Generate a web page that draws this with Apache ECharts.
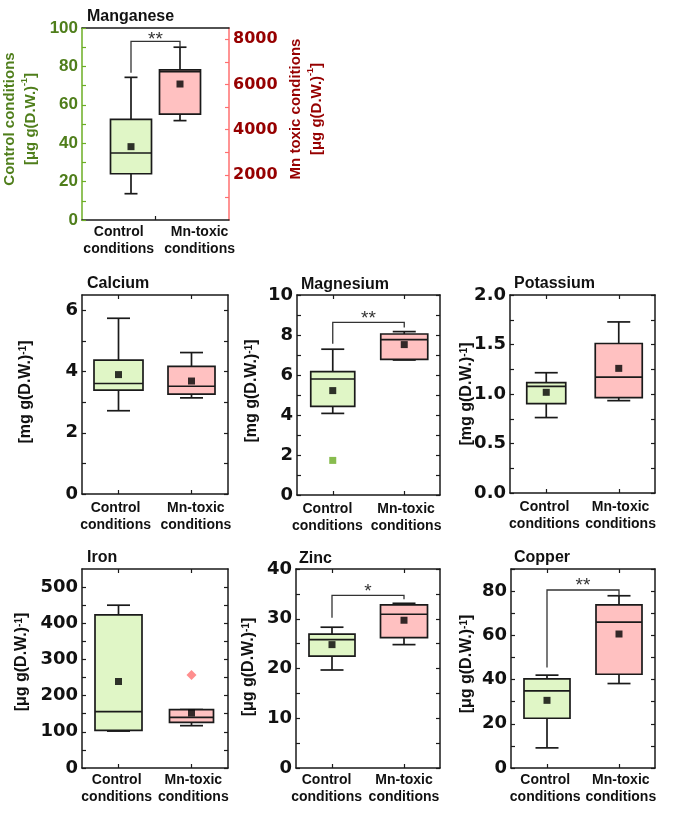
<!DOCTYPE html>
<html><head><meta charset="utf-8">
<script src="https://cdn.jsdelivr.net/npm/echarts@6/dist/echarts.min.js"></script>
<style>html,body{margin:0;padding:0;background:#fff}#c{width:685px;height:815px}</style>
</head><body><div id="c"></div>
<script>
// ---------------- DATA ----------------
const categories = ['Control\nconditions', 'Mn-toxic\nconditions'];
// box stats: [min, Q1, median, Q3, max]
// Manganese: control on left axis (µg/g), Mn-toxic on right axis (µg/g)
const mnControl = [13.7, 24.1, 34.9, 52.4, 74.3];
const mnControlMean = [38.2];
const mnToxic = [4400, 4690, 6570, 6650, 7650];
const mnToxicMean = [6020];
const mnSignif = [93, 76.7, 90];            // bracket top, left leg end, right leg end
const mnLeftLabels = [0, 20, 40, 60, 80, 100];
const mnLeftTicks = [0, 10, 20, 30, 40, 50, 60, 70, 80, 90, 100];
const mnRightLabels = [2000, 4000, 6000, 8000];
const mnRightTicks = [1000, 2000, 3000, 4000, 5000, 6000, 7000, 8000];

const caControl = [2.72, 3.39, 3.61, 4.37, 5.74];
const caControlMean = [3.90];
const caToxic = [3.14, 3.26, 3.52, 4.17, 4.62];
const caToxicMean = [3.69];
const caLabels = [0, 2, 4, 6];
const caTicks = [0, 1, 2, 3, 4, 5, 6];

const mgControl = [4.08, 4.43, 5.80, 6.17, 7.29];
const mgControlMean = [5.22];
const mgControlOutliers = [1.73];
const mgToxic = [6.75, 6.78, 7.77, 8.05, 8.17];
const mgToxicMean = [7.52];
const mgSignif = [8.63, 7.56, 8.38];
const mgLabels = [0, 2, 4, 6, 8, 10];
const mgTicks = [0, 1, 2, 3, 4, 5, 6, 7, 8, 9, 10];

const kControl = [0.762, 0.903, 1.078, 1.114, 1.215];
const kControlMean = [1.017];
const kToxic = [0.933, 0.963, 1.171, 1.51, 1.728];
const kToxicMean = [1.259];
const kLabels = [0, 0.5, 1.0, 1.5, 2.0];
const kTicks = [0, 0.25, 0.5, 0.75, 1.0, 1.25, 1.5, 1.75, 2.0];

const feControl = [102, 104, 156, 423, 450];
const feControlMean = [239];
const feToxic = [117, 126, 140, 161.5, 161.5];
const feToxicMean = [152];
const feToxicOutliers = [257];
const feLabels = [0, 100, 200, 300, 400, 500];
const feTicks = [0, 50, 100, 150, 200, 250, 300, 350, 400, 450, 500];

const znControl = [19.7, 22.5, 25.8, 26.9, 28.3];
const znControlMean = [24.8];
const znToxic = [24.8, 26.2, 30.9, 32.8, 33.1];
const znToxicMean = [29.7];
const znSignif = [34.7, 30.2, 33.9];
const znLabels = [0, 10, 20, 30, 40];
const znTicks = [0, 5, 10, 15, 20, 25, 30, 35, 40];

const cuControl = [9.1, 22.5, 34.9, 40.3, 42.0];
const cuControlMean = [30.6];
const cuToxic = [38.2, 42.4, 66.0, 73.8, 77.9];
const cuToxicMean = [60.6];
const cuSignif = [80.5, 45.4, 77.9];
const cuLabels = [0, 20, 40, 60, 80];
const cuTicks = [0, 10, 20, 30, 40, 50, 60, 70, 80, 90];

// ---------------- STYLE ----------------
const ARIAL = '"Liberation Sans", Arial, sans-serif';
const DEJAVU = '"DejaVu Sans", sans-serif';
const INK = '#1a1a1a';
const CTRL_FILL = '#e0f6c6';
const TOX_FILL = '#ffc1c1';
const GREEN_LINE = '#6cae24';
const GREEN_TEXT = '#4f7e1b';
const RED_LINE = '#ff7070';
const RED_TEXT = '#960000';

const grids = [], xAxis = [], yAxis = [], series = [], titles = [], graphics = [];

function boxRender(boxW, capW, fill) {
  return function (params, api) {
    const x = api.value(0);
    const pt = i => api.coord([x, api.value(i)]);
    const lo = pt(1), q1 = pt(2), md = pt(3), q3 = pt(4), hi = pt(5);
    const cx = lo[0];
    const ls = { stroke: INK, lineWidth: 1.7, fill: null };
    const ch = [];
    ch.push({ type: 'line', shape: { x1: cx, y1: hi[1], x2: cx, y2: q3[1] }, style: ls });
    ch.push({ type: 'line', shape: { x1: cx, y1: q1[1], x2: cx, y2: lo[1] }, style: ls });
    ch.push({ type: 'line', shape: { x1: cx - capW / 2, y1: hi[1], x2: cx + capW / 2, y2: hi[1] }, style: ls });
    ch.push({ type: 'line', shape: { x1: cx - capW / 2, y1: lo[1], x2: cx + capW / 2, y2: lo[1] }, style: ls });
    ch.push({ type: 'rect', shape: { x: cx - boxW / 2, y: q3[1], width: boxW, height: q1[1] - q3[1] },
      style: { fill: fill, stroke: INK, lineWidth: 1.7 } });
    ch.push({ type: 'line', shape: { x1: cx - boxW / 2, y1: md[1], x2: cx + boxW / 2, y2: md[1] }, style: ls });
    return { type: 'group', children: ch };
  };
}

function bracketRender(stars, starOff) {
  return function (params, api) {
    const x1 = api.value(0), x2 = api.value(1);
    const a = api.coord([x1, api.value(3)]);
    const b = api.coord([x1, api.value(2)]);
    const c = api.coord([x2, api.value(2)]);
    const d = api.coord([x2, api.value(4)]);
    return { type: 'group', children: [
      { type: 'polyline', shape: { points: [a, b, c, d] }, style: { stroke: '#333', lineWidth: 1.3, fill: null } },
      { type: 'text', x: (b[0] + c[0]) / 2, y: b[1] - starOff,
        style: { text: stars, font: 'normal 19px "Liberation Sans", Arial', fill: '#333', align: 'center', verticalAlign: 'middle' } }
    ] };
  };
}

function addPanel(p) {
  const gi = grids.length;
  grids.push({ left: p.rect[0], top: p.rect[1], width: p.rect[2], height: p.rect[3] });
  const xb = xAxis.length;
  xAxis.push({
    gridIndex: gi, type: 'value', min: 0, max: p.xMax, position: 'bottom',
    axisLine: { show: true, onZero: false, lineStyle: { color: INK, width: 1.5 } },
    axisTick: { show: p.botTicks.length > 0, inside: true, length: 4, customValues: p.botTicks, lineStyle: { color: INK, width: 1.2 } },
    axisLabel: { show: true, customValues: p.labelPos,
      formatter: (v) => { let k = 0, best = 1e9; p.labelPos.forEach((q, i) => { if (Math.abs(q - v) < best) { best = Math.abs(q - v); k = i; } }); return categories[k]; },
      margin: p.labelMargin, fontFamily: ARIAL, fontWeight: 'bold', fontSize: 14, lineHeight: 16.5, color: '#111' },
    splitLine: { show: false }
  });
  xAxis.push({
    gridIndex: gi, type: 'value', min: 0, max: p.xMax, position: 'top',
    axisLine: { show: true, onZero: false, lineStyle: { color: INK, width: 1.5 } },
    axisTick: { show: p.topTicks.length > 0, inside: true, length: 4, customValues: p.topTicks, lineStyle: { color: INK, width: 1.2 } },
    axisLabel: { show: false }, splitLine: { show: false }
  });
  const yl = yAxis.length;
  const L = p.left, R = p.right;
  yAxis.push({
    gridIndex: gi, type: 'value', min: L.min, max: L.max, position: 'left',
    axisLine: { show: true, onZero: false, lineStyle: { color: L.line || INK, width: 1.5 } },
    axisTick: { show: true, inside: true, length: 4, customValues: L.ticks, lineStyle: { color: L.line || INK, width: 1.2 } },
    axisLabel: { show: true, customValues: L.labels, formatter: L.fmt || (v => String(v)), margin: 4,
      fontFamily: L.font || DEJAVU, fontWeight: 'bold', fontSize: L.size || 18, color: L.color || '#111' },
    splitLine: { show: false }
  });
  yAxis.push({
    gridIndex: gi, type: 'value', min: R.min, max: R.max, position: 'right',
    axisLine: { show: true, onZero: false, lineStyle: { color: R.line || INK, width: 1.5 } },
    axisTick: { show: true, inside: true, length: 4, customValues: R.ticks, lineStyle: { color: R.line || INK, width: 1.2 } },
    axisLabel: { show: !!R.labels, customValues: R.labels || [], formatter: v => String(v), margin: 4,
      fontFamily: R.font || DEJAVU, fontWeight: 'bold', fontSize: R.size || 18, color: R.color || '#111' },
    splitLine: { show: false }
  });
  p.boxes.forEach(b => {
    const yi = b.right ? yl + 1 : yl;
    series.push({ type: 'custom', xAxisIndex: xb, yAxisIndex: yi, renderItem: boxRender(b.w, p.capW, b.fill),
      data: [[b.x].concat(b.stats)], z: 2, silent: true, clip: false });
    series.push({ type: 'scatter', xAxisIndex: xb, yAxisIndex: yi, symbol: 'rect', symbolSize: 7,
      itemStyle: { color: '#000' }, data: b.mean.map(v => [b.x, v]), z: 5, silent: true });
    if (b.outliers) {
      series.push({ type: 'scatter', xAxisIndex: xb, yAxisIndex: yi, symbol: b.outSym, symbolSize: b.outSize,
        itemStyle: { color: b.outColor }, data: b.outliers.map(v => [b.x, v]), z: 5, silent: true });
    }
  });
  if (p.signif) {
    series.push({ type: 'custom', xAxisIndex: xb, yAxisIndex: yl, renderItem: bracketRender(p.stars, p.starOff),
      data: [[p.boxes[0].x, p.boxes[1].x].concat(p.signif)], z: 3, silent: true, clip: false });
  }
  titles.push({ text: p.title, left: p.titlePos[0], top: p.titlePos[1], padding: 0,
    textStyle: { fontFamily: ARIAL, fontWeight: 'bold', fontSize: 16, lineHeight: 16, color: '#111' } });
}

const nameRich = (size, color) => ({ s: { fontSize: Math.round(size * 0.62), fontWeight: 'bold', fontFamily: ARIAL, fill: color, verticalAlign: 'top', lineHeight: size } });
function addName(text, x, y, size, color, lh) {
  graphics.push({ type: 'text', x: x, y: y, rotation: Math.PI / 2, silent: true,
    style: { text: text, fontFamily: ARIAL, fontWeight: 'bold', fontSize: size, fill: color, lineHeight: lh || size,
      align: 'center', verticalAlign: 'middle', rich: nameRich(size, color) } });
}

// ---------------- PANELS ----------------
addPanel({ title: 'Manganese', titlePos: [87, 9], rect: [82, 28, 147, 192], xMax: 3,
  botTicks: [1.5], topTicks: [], labelPos: [0.75, 2.4], labelMargin: 4, capW: 13,
  left: { min: 0, max: 100, labels: mnLeftLabels, ticks: mnLeftTicks, line: GREEN_LINE, color: GREEN_TEXT, font: ARIAL, size: 17 },
  right: { min: 0, max: 8500, labels: mnRightLabels, ticks: mnRightTicks, line: RED_LINE, color: RED_TEXT, font: DEJAVU, size: 16 },
  boxes: [
    { x: 1, stats: mnControl, mean: mnControlMean, fill: CTRL_FILL, w: 41 },
    { x: 2, stats: mnToxic, mean: mnToxicMean, fill: TOX_FILL, w: 41, right: true }
  ],
  signif: mnSignif, stars: '**', starOff: 2 });

addPanel({ title: 'Calcium', titlePos: [87, 276], rect: [82, 295, 146, 199], xMax: 4,
  botTicks: [1, 3], topTicks: [1, 3], labelPos: [0.92, 3.12], labelMargin: 6, capW: 23,
  left: { min: 0, max: 6.5, labels: caLabels, ticks: caTicks },
  right: { min: 0, max: 6.5, ticks: caTicks },
  boxes: [
    { x: 1, stats: caControl, mean: caControlMean, fill: CTRL_FILL, w: 49 },
    { x: 3, stats: caToxic, mean: caToxicMean, fill: TOX_FILL, w: 47 }
  ] });

addPanel({ title: 'Magnesium', titlePos: [301, 277], rect: [297, 295, 143, 200], xMax: 4,
  botTicks: [1, 3], topTicks: [1, 3], labelPos: [0.85, 3.05], labelMargin: 6, capW: 23,
  left: { min: 0, max: 10, labels: mgLabels, ticks: mgTicks },
  right: { min: 0, max: 10, ticks: mgTicks },
  boxes: [
    { x: 1, stats: mgControl, mean: mgControlMean, fill: CTRL_FILL, w: 44, outliers: mgControlOutliers, outSym: 'rect', outSize: 7, outColor: '#6aab22' },
    { x: 3, stats: mgToxic, mean: mgToxicMean, fill: TOX_FILL, w: 47 }
  ],
  signif: mgSignif, stars: '**', starOff: 4 });

addPanel({ title: 'Potassium', titlePos: [514, 276], rect: [510, 295, 145, 198], xMax: 4,
  botTicks: [1, 3], topTicks: [1, 3], labelPos: [0.95, 3.05], labelMargin: 6, capW: 23,
  left: { min: 0, max: 2, labels: kLabels, ticks: kTicks, fmt: v => v.toFixed(1) },
  right: { min: 0, max: 2, ticks: kTicks },
  boxes: [
    { x: 1, stats: kControl, mean: kControlMean, fill: CTRL_FILL, w: 39 },
    { x: 3, stats: kToxic, mean: kToxicMean, fill: TOX_FILL, w: 47 }
  ] });

addPanel({ title: 'Iron', titlePos: [87, 550], rect: [82, 569, 146, 199], xMax: 4,
  botTicks: [1, 3], topTicks: [1, 3], labelPos: [0.95, 3.05], labelMargin: 4, capW: 23,
  left: { min: 0, max: 550, labels: feLabels, ticks: feTicks },
  right: { min: 0, max: 550, ticks: feTicks },
  boxes: [
    { x: 1, stats: feControl, mean: feControlMean, fill: CTRL_FILL, w: 47 },
    { x: 3, stats: feToxic, mean: feToxicMean, fill: TOX_FILL, w: 44, outliers: feToxicOutliers, outSym: 'diamond', outSize: 10, outColor: '#ff7272' }
  ] });

addPanel({ title: 'Zinc', titlePos: [299, 551], rect: [296, 569, 144, 199], xMax: 4,
  botTicks: [1, 3], topTicks: [1, 3], labelPos: [0.85, 3.0], labelMargin: 4, capW: 23,
  left: { min: 0, max: 40, labels: znLabels, ticks: znTicks },
  right: { min: 0, max: 40, ticks: znTicks },
  boxes: [
    { x: 1, stats: znControl, mean: znControlMean, fill: CTRL_FILL, w: 46 },
    { x: 3, stats: znToxic, mean: znToxicMean, fill: TOX_FILL, w: 47 }
  ],
  signif: znSignif, stars: '*', starOff: 4 });

addPanel({ title: 'Copper', titlePos: [514, 550], rect: [511, 569, 144, 199], xMax: 4,
  botTicks: [1, 3], topTicks: [1, 3], labelPos: [0.95, 3.05], labelMargin: 4, capW: 23,
  left: { min: 0, max: 90, labels: cuLabels, ticks: cuTicks },
  right: { min: 0, max: 90, ticks: cuTicks },
  boxes: [
    { x: 1, stats: cuControl, mean: cuControlMean, fill: CTRL_FILL, w: 46 },
    { x: 3, stats: cuToxic, mean: cuToxicMean, fill: TOX_FILL, w: 46 }
  ],
  signif: cuSignif, stars: '**', starOff: 4 });

// axis names
addName('Control conditions\n[μg g(D.W.){s|-1}]', 20, 119, 15, GREEN_TEXT, 21);
addName('Mn toxic conditions\n[μg g(D.W.){s|-1}]', 306, 109, 15, RED_TEXT, 21);
addName('[mg g(D.W.){s|-1}]', 26, 392, 16, '#111');
addName('[mg g(D.W.){s|-1}]', 252, 391, 16, '#111');
addName('[mg g(D.W.){s|-1}]', 467, 394, 16, '#111');
addName('[μg g(D.W.){s|-1}]', 22, 662, 16, '#111');
addName('[μg g(D.W.){s|-1}]', 249, 667, 16, '#111');
addName('[μg g(D.W.){s|-1}]', 467, 664, 16, '#111');

const chart = echarts.init(document.getElementById('c'), null, { renderer: 'canvas' });
chart.setOption({
  animation: false,
  backgroundColor: '#fff',
  title: titles,
  grid: grids,
  xAxis: xAxis,
  yAxis: yAxis,
  series: series,
  graphic: graphics
});
</script></body></html>
